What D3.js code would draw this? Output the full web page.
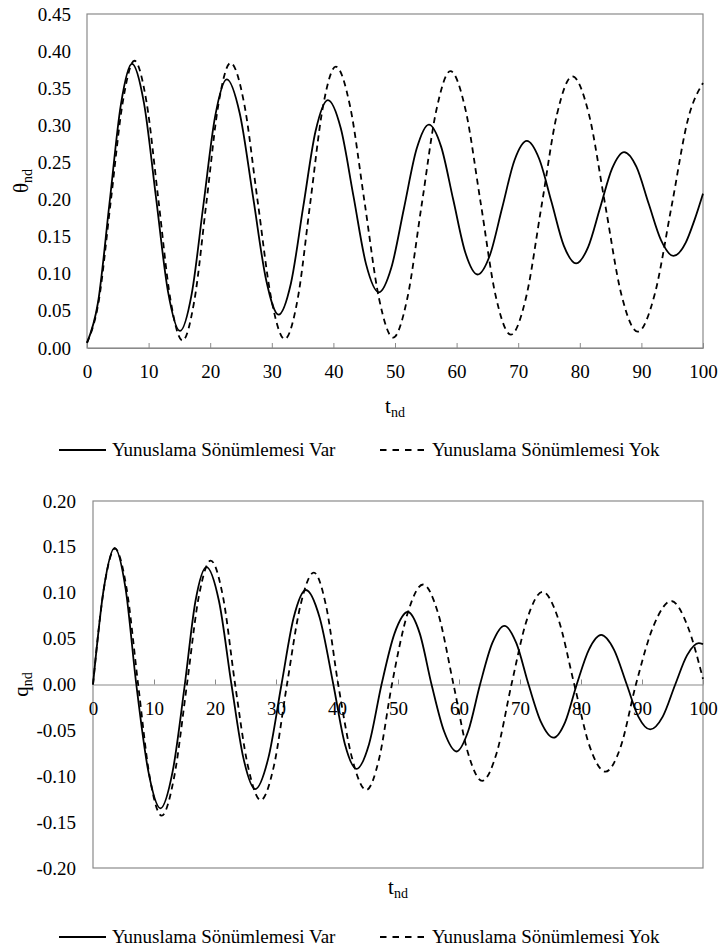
<!DOCTYPE html>
<html>
<head>
<meta charset="utf-8">
<script src="https://cdn.jsdelivr.net/npm/d3@7"></script>
<style>
  html, body { margin: 0; padding: 0; background: #fff; }
  svg { display: block; }
</style>
</head>
<body>
<svg id="fig" width="719" height="949"></svg>
<script>
// Time axis ticks shared by both panels
const timeTicks = [0, 10, 20, 30, 40, 50, 60, 70, 80, 90, 100];
const thetaTicks = [0, 0.05, 0.10, 0.15, 0.20, 0.25, 0.30, 0.35, 0.40, 0.45];
const qTicks = [-0.20, -0.15, -0.10, -0.05, 0, 0.05, 0.10, 0.15, 0.20];

const seriesNames = ["Yunuslama Sönümlemesi Var", "Yunuslama Sönümlemesi Yok"];

// Pitch angle, with pitch damping  [t_nd, theta_nd]
const thetaDamped = [
  [0, 0.007], [1.8, 0.062], [3.65, 0.195], [5.5, 0.328], [7.3, 0.383],
  [9.25, 0.330], [11.2, 0.203], [13.15, 0.076], [15.1, 0.023],
  [17.0, 0.073], [18.9, 0.193], [20.8, 0.312], [22.7, 0.362],
  [24.8, 0.316], [26.95, 0.204], [29.1, 0.091], [31.1, 0.045],
  [33.1, 0.087], [35.1, 0.190], [37.1, 0.292], [39.1, 0.334],
  [41.2, 0.296], [43.25, 0.205], [45.3, 0.113], [47.4, 0.075],
  [49.4, 0.108], [51.45, 0.188], [53.5, 0.268], [55.5, 0.301],
  [57.5, 0.271], [59.45, 0.200], [61.4, 0.129], [63.4, 0.099],
  [65.4, 0.125], [67.4, 0.189], [69.4, 0.253], [71.4, 0.279],
  [73.4, 0.255], [75.4, 0.197], [77.4, 0.138], [79.4, 0.114],
  [81.35, 0.136], [83.3, 0.189], [85.25, 0.242], [87.2, 0.264],
  [89.2, 0.244], [91.2, 0.194], [93.2, 0.145], [95.2, 0.124],
  [97.2, 0.142], [98.6, 0.172], [100, 0.208]
];

// Pitch angle, without pitch damping
const thetaUndamped = [
  [0, 0.007], [1.9, 0.063], [3.85, 0.197], [5.8, 0.331], [7.7, 0.387],
  [9.65, 0.332], [11.6, 0.199], [13.55, 0.065], [15.5, 0.010],
  [17.45, 0.065], [19.4, 0.197], [21.35, 0.329], [23.3, 0.384],
  [25.5, 0.330], [27.7, 0.198], [29.9, 0.067], [32.1, 0.012],
  [34.2, 0.066], [36.25, 0.196], [38.3, 0.325], [40.4, 0.379],
  [42.7, 0.326], [45.05, 0.197], [47.4, 0.067], [49.7, 0.014],
  [52.0, 0.067], [54.35, 0.194], [56.7, 0.320], [59.0, 0.373],
  [61.45, 0.321], [63.9, 0.196], [66.35, 0.070], [68.8, 0.018],
  [71.3, 0.069], [73.8, 0.192], [76.3, 0.315], [78.8, 0.366],
  [81.45, 0.316], [84.1, 0.194], [86.75, 0.072], [89.4, 0.022],
  [92.15, 0.072], [94.9, 0.191], [97.65, 0.311], [100, 0.357]
];

// Pitch rate, with pitch damping  [t_nd, q_nd]
const qDamped = [
  [0, 0], [1.78, 0.105], [3.56, 0.149], [5.33, 0.105], [7.1, 0],
  [9.08, -0.095], [11.06, -0.135], [13.05, -0.095], [15.05, 0],
  [16.8, 0.091], [18.6, 0.128], [20.65, 0.091], [22.7, 0],
  [24.65, -0.080], [26.6, -0.114], [28.75, -0.080], [30.9, 0],
  [32.9, 0.073], [34.9, 0.103], [37.15, 0.073], [39.4, 0],
  [41.3, -0.065], [43.2, -0.092], [45.25, -0.065], [47.3, 0],
  [49.45, 0.056], [51.6, 0.079], [53.55, 0.056], [55.5, 0],
  [57.55, -0.051], [59.6, -0.073], [61.5, -0.051], [63.45, 0],
  [65.45, 0.045], [67.45, 0.064], [69.4, 0.045], [71.4, 0],
  [73.45, -0.041], [75.5, -0.058], [77.4, -0.041], [79.3, 0],
  [81.3, 0.038], [83.3, 0.054], [85.4, 0.038], [87.5, 0],
  [89.4, -0.035], [91.35, -0.049], [93.4, -0.035], [95.45, 0],
  [97.4, 0.032], [99.3, 0.045], [100, 0.044]
];

// Pitch rate, without pitch damping
const qUndamped = [
  [0, 0], [1.8, 0.105], [3.6, 0.148], [5.5, 0.105], [7.4, 0],
  [9.3, -0.101], [11.25, -0.143], [13.3, -0.101], [15.4, 0],
  [17.35, 0.096], [19.3, 0.135], [21.3, 0.096], [23.3, 0],
  [25.4, -0.089], [27.5, -0.126], [29.65, -0.089], [31.8, 0],
  [34.0, 0.086], [36.2, 0.122], [38.2, 0.086], [40.2, 0],
  [42.5, -0.081], [44.8, -0.115], [46.9, -0.081], [49.0, 0],
  [51.55, 0.077], [54.1, 0.109], [56.6, 0.077], [59.1, 0],
  [61.45, -0.074], [63.8, -0.105], [66.2, -0.074], [68.6, 0],
  [71.15, 0.071], [73.7, 0.101], [76.3, 0.071], [78.9, 0],
  [81.45, -0.068], [84.0, -0.095], [86.5, -0.068], [89.0, 0],
  [91.9, 0.064], [94.8, 0.091], [97.45, 0.064], [100, 0.006]
];

const svg = d3.select("#fig");
const frameColor = "#8a8a8a";
const fontSize = 19;
const serif = '"Liberation Serif", "Times New Roman", serif';

function subLabel(sel, main, sub) {
  sel.append("tspan").text(main);
  sel.append("tspan").style("font-size", "14px").attr("dy", 4).text(sub);
}

function drawPanel(opt) {
  const g = svg.append("g");
  const x = d3.scaleLinear().domain([0, 100]).range([opt.left, opt.right]);
  const y = d3.scaleLinear().domain(opt.yDomain).range([opt.bottom, opt.top]);

  // plot frame
  g.append("rect")
    .attr("x", opt.left).attr("y", opt.top)
    .attr("width", opt.right - opt.left).attr("height", opt.bottom - opt.top)
    .attr("fill", "none").attr("stroke", frameColor).attr("stroke-width", 1.2);

  // horizontal axis at y = axisValue, with inward ticks
  const ay = y(opt.axisValue);
  const xAxis = d3.axisBottom(x).tickValues(timeTicks).tickSize(0).tickPadding(0)
    .tickFormat(d => String(d));
  const xa = g.append("g").attr("transform", `translate(0,${ay})`).call(xAxis);
  xa.select(".domain").attr("stroke", frameColor).attr("stroke-width", 1.2);
  xa.selectAll(".tick line").remove();
  xa.selectAll(".tick").append("line")
    .attr("y1", 0).attr("y2", -5).attr("stroke", frameColor).attr("stroke-width", 1);
  xa.selectAll(".tick text")
    .attr("dy", null)
    .attr("y", opt.xLabelOffset)
    .attr("fill", "#000")
    .style("font-family", serif).style("font-size", fontSize + "px");

  // vertical axis labels (hyphen-minus, two decimals)
  const yAxis = d3.axisLeft(y).tickValues(opt.yTicks).tickSize(0).tickPadding(0)
    .tickFormat(d => d.toFixed(2));
  const ya = g.append("g").attr("transform", `translate(${opt.yLabelX},0)`).call(yAxis);
  ya.select(".domain").remove();
  ya.selectAll(".tick text")
    .attr("x", 0)
    .attr("fill", "#000")
    .style("font-family", serif).style("font-size", fontSize + "px");

  // curves
  const line = d3.line().x(d => x(d[0])).y(d => y(d[1])).curve(d3.curveMonotoneX);
  g.append("path").datum(opt.solid).attr("d", line)
    .attr("fill", "none").attr("stroke", "#000").attr("stroke-width", 1.8);
  g.append("path").datum(opt.dashed).attr("d", line)
    .attr("fill", "none").attr("stroke", "#000").attr("stroke-width", 1.8)
    .attr("stroke-dasharray", "6,4.5");

  // axis titles
  const yt = g.append("text")
    .attr("transform", `translate(${opt.yTitleX},${(opt.top + opt.bottom) / 2}) rotate(-90)`)
    .attr("text-anchor", "middle")
    .style("font-family", serif).style("font-size", "21px");
  subLabel(yt, opt.yMain, "nd");

  const xt = g.append("text")
    .attr("x", (opt.left + opt.right) / 2).attr("y", opt.xTitleY)
    .attr("text-anchor", "middle")
    .style("font-family", serif).style("font-size", "21px");
  subLabel(xt, "t", "nd");

  // legend
  const ly = opt.legendY;
  const lg = g.append("g");
  lg.append("line").attr("x1", 59).attr("x2", 106).attr("y1", ly).attr("y2", ly)
    .attr("stroke", "#000").attr("stroke-width", 1.8);
  lg.append("text").attr("x", 112).attr("y", ly + 6)
    .style("font-family", serif).style("font-size", fontSize + "px")
    .text(seriesNames[0]);
  lg.append("line").attr("x1", 380).attr("x2", 426).attr("y1", ly).attr("y2", ly)
    .attr("stroke", "#000").attr("stroke-width", 1.8).attr("stroke-dasharray", "6.5,6");
  lg.append("text").attr("x", 432).attr("y", ly + 6)
    .style("font-family", serif).style("font-size", fontSize + "px")
    .text(seriesNames[1]);
}

drawPanel({
  left: 87, right: 703, top: 14, bottom: 348,
  yDomain: [0, 0.45], yTicks: thetaTicks, axisValue: 0,
  xLabelOffset: 30, yLabelX: 71, yTitleX: 28, yMain: "θ", xTitleY: 413,
  legendY: 450,
  solid: thetaDamped, dashed: thetaUndamped
});

drawPanel({
  left: 93, right: 703, top: 501, bottom: 868,
  yDomain: [-0.20, 0.20], yTicks: qTicks, axisValue: 0,
  xLabelOffset: 30, yLabelX: 76, yTitleX: 28, yMain: "q", xTitleY: 894,
  legendY: 937,
  solid: qDamped, dashed: qUndamped
});
</script>
</body>
</html>
